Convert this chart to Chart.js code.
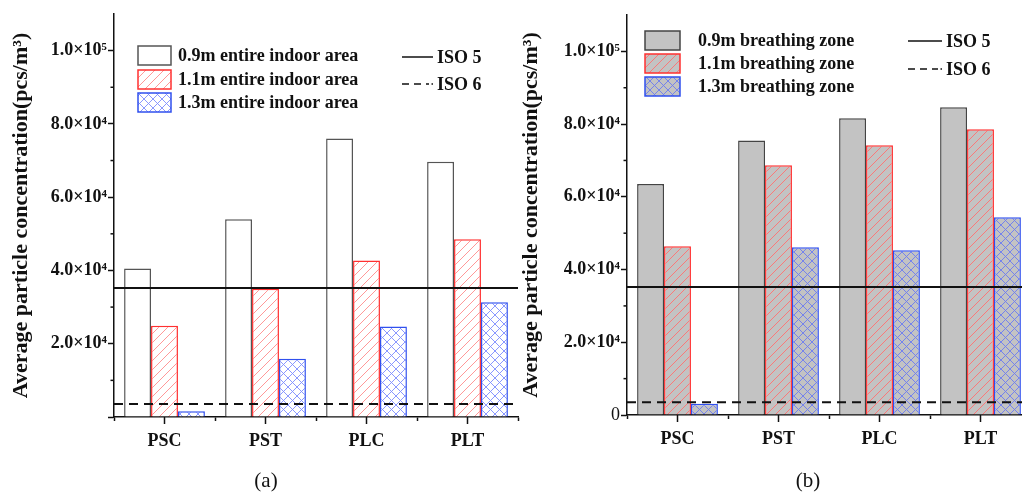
<!DOCTYPE html>
<html>
<head>
<meta charset="utf-8">
<script src="https://cdn.jsdelivr.net/npm/chart.js@4.4.1/dist/chart.umd.min.js"></script>
<style>
  html, body { margin: 0; padding: 0; background: #fff; overflow: hidden; }
  #wrapA { position: absolute; left: 0; top: 0; width: 525px; height: 497px; }
  #wrapB { position: absolute; left: 515px; top: 0; width: 516px; height: 497px; }
</style>
</head>
<body>
<div id="wrapA"><canvas id="chartA"></canvas></div>
<div id="wrapB"><canvas id="chartB"></canvas></div>
<script>
const categories = ["PSC", "PST", "PLC", "PLT"];

// (a) entire indoor area
const entire09 = [40500, 54000, 76000, 69700];
const entire11 = [24900, 35000, 42700, 48500];
const entire13 = [1600, 15900, 24700, 31300];

// (b) breathing zone
const breath09 = [63500, 75500, 81600, 84600];
const breath11 = [46400, 68700, 74200, 78600];
const breath13 = [3100, 46100, 45300, 54400];

// ISO class limits
const iso5 = 35200;
const iso6 = 3520;

const yTickValues = [20000, 40000, 60000, 80000, 100000];
const yTickLabels = ["2.0×10⁴", "4.0×10⁴", "6.0×10⁴", "8.0×10⁴", "1.0×10⁵"];

const serif = "'Liberation Serif', 'Times New Roman', serif";
const ink = "#111";
const red = "#ff3030";
const blue = "#3050ee";
const grey = "#c3c3c3";

function makePattern(bg, color, cross) {
  const s = 9;
  const c = document.createElement("canvas");
  c.width = s; c.height = s;
  const g = c.getContext("2d");
  g.fillStyle = bg;
  g.fillRect(0, 0, s, s);
  g.strokeStyle = color;
  g.lineWidth = 0.9;
  g.beginPath();
  g.moveTo(-1, s + 1); g.lineTo(s + 1, -1);
  g.moveTo(-1, 1); g.lineTo(1, -1);
  g.moveTo(s - 1, s + 1); g.lineTo(s + 1, s - 1);
  if (cross) {
    g.moveTo(-1, -1); g.lineTo(s + 1, s + 1);
    g.moveTo(s - 1, -1); g.lineTo(s + 1, 1);
    g.moveTo(-1, s - 1); g.lineTo(1, s + 1);
  }
  g.stroke();
  return g.createPattern(c, "repeat");
}

const redHatchWhite = makePattern("#fff", "#ff8c8c", false);
const blueCrossWhite = makePattern("#fff", "#7d8cff", true);
const redHatchGrey = makePattern(grey, "#ff7070", false);
const blueCrossGrey = makePattern(grey, "#6c7cf0", true);

const panelDecor = {
  id: "panelDecor",
  afterDatasetsDraw(chart, args, o) {
    const { ctx, chartArea: { left, right }, scales: { y } } = chart;
    ctx.save();
    ctx.strokeStyle = ink;
    ctx.lineWidth = 2;
    let py = y.getPixelForValue(iso5);
    ctx.beginPath(); ctx.moveTo(left, py); ctx.lineTo(right, py); ctx.stroke();
    ctx.setLineDash([9, 6]);
    py = y.getPixelForValue(iso6);
    ctx.beginPath(); ctx.moveTo(left, py); ctx.lineTo(right, py); ctx.stroke();
    ctx.restore();
  },
  afterDraw(chart, args, o) {
    const { ctx, chartArea: { left, bottom }, scales: { x, y } } = chart;
    ctx.save();
    ctx.strokeStyle = ink;
    ctx.lineWidth = 1.5;
    // category ticks
    categories.forEach((c, i) => {
      const px = x.getPixelForValue(i);
      ctx.beginPath(); ctx.moveTo(px, bottom); ctx.lineTo(px, bottom + 7); ctx.stroke();
    });
    // minor y ticks
    y.ticks.forEach(t => {
      if (t.value % 20000 !== 0 && t.value < y.max) {
        const py = y.getPixelForValue(t.value);
        ctx.beginPath(); ctx.moveTo(left, py); ctx.lineTo(left - 3.5, py); ctx.stroke();
      }
    });
    // legend boxes
    ctx.font = "bold 18px " + serif;
    ctx.textBaseline = "middle";
    ctx.fillStyle = ink;
    chart.data.datasets.forEach((ds, i) => {
      const by = o.boxY[i];
      ctx.fillStyle = ds.backgroundColor;
      ctx.fillRect(o.boxX, by, o.boxW, o.boxH);
      ctx.strokeStyle = ds.borderColor;
      ctx.lineWidth = 1.5;
      ctx.strokeRect(o.boxX, by, o.boxW, o.boxH);
      ctx.fillStyle = ink;
      ctx.fillText(ds.label, o.textX, by + o.boxH / 2 + 1);
    });
    // ISO legend
    ctx.strokeStyle = ink;
    ctx.lineWidth = 1.5;
    ctx.beginPath(); ctx.moveTo(o.lineX, o.lineY[0]); ctx.lineTo(o.lineX + o.lineW, o.lineY[0]); ctx.stroke();
    ctx.setLineDash([7, 5]);
    ctx.beginPath(); ctx.moveTo(o.lineX, o.lineY[1]); ctx.lineTo(o.lineX + o.lineW - 4, o.lineY[1]); ctx.stroke();
    ctx.setLineDash([]);
    ctx.beginPath(); ctx.moveTo(o.lineX + o.lineW - 1.5, o.lineY[1]); ctx.lineTo(o.lineX + o.lineW, o.lineY[1]); ctx.stroke();
    ctx.fillText("ISO 5", o.lineX + o.lineW + 4, o.lineY[0] + 1);
    ctx.fillText("ISO 6", o.lineX + o.lineW + 4, o.lineY[1] + 1);
    // panel letter
    ctx.font = "21px " + serif;
    ctx.textAlign = "center";
    ctx.fillText(o.letter, o.letterX, 481);
    ctx.restore();
  }
};

function panelOptions(cfg) {
  return {
    responsive: true,
    maintainAspectRatio: false,
    animation: false,
    layout: { padding: { top: cfg.top, right: cfg.right, left: 0, bottom: 0 } },
    datasets: { bar: { categoryPercentage: 0.8, barPercentage: 1, borderSkipped: "bottom" } },
    plugins: { legend: { display: false }, tooltip: { enabled: false }, panelDecor: cfg.decor },
    scales: {
      x: {
        afterFit(s) { s.height = cfg.xHeight; s.paddingLeft = 0; s.paddingRight = 0; },
        grid: { drawOnChartArea: false, offset: true, tickLength: 4, tickColor: ink, tickWidth: 1.5 },
        border: { color: ink, width: 1.5 },
        ticks: { color: ink, padding: 10, font: { family: serif, size: 18, weight: "bold" } }
      },
      y: {
        min: 0,
        max: 110000,
        afterFit(s) { s.width = cfg.yWidth; s.paddingTop = 0; s.paddingBottom = 0; },
        grid: {
          drawOnChartArea: false,
          tickLength: 6,
          tickWidth: 1.5,
          tickColor: c => (c.tick && c.tick.value % 20000 === 0 && c.tick.value <= 100000) ? ink : "rgba(0,0,0,0)"
        },
        border: { color: ink, width: 1.5 },
        ticks: {
          stepSize: 10000,
          autoSkip: false,
          padding: 1,
          color: ink,
          font: c => ({ family: serif, size: 18, weight: (c.tick && c.tick.value === 0) ? "normal" : "bold" }),
          callback(v) {
            if (v === 0) return cfg.showZero ? "0" : "";
            const i = yTickValues.indexOf(v);
            return i >= 0 ? yTickLabels[i] : "";
          }
        },
        title: {
          display: true,
          text: "Average particle concentration(pcs/m³)",
          color: ink,
          font: { family: serif, size: 22, weight: "bold" },
          padding: { top: cfg.titlePad, bottom: 0 }
        }
      }
    }
  };
}

new Chart(document.getElementById("chartA"), {
  type: "bar",
  data: {
    labels: categories,
    datasets: [
      { label: "0.9m entire indoor area", data: entire09, backgroundColor: "#fff", borderColor: "#555", borderWidth: 1.5 },
      { label: "1.1m entire indoor area", data: entire11, backgroundColor: redHatchWhite, borderColor: red, borderWidth: 1.5 },
      { label: "1.3m entire indoor area", data: entire13, backgroundColor: blueCrossWhite, borderColor: blue, borderWidth: 1.5 }
    ]
  },
  options: panelOptions({
    top: 14, right: 7, xHeight: 80, yWidth: 114, showZero: false, titlePad: 8,
    decor: {
      boxX: 138, boxW: 33, boxH: 19, boxY: [46, 70, 93], textX: 178,
      lineX: 402, lineW: 31, lineY: [57, 84],
      letter: "(a)", letterX: 266
    }
  }),
  plugins: [panelDecor]
});

new Chart(document.getElementById("chartB"), {
  type: "bar",
  data: {
    labels: categories,
    datasets: [
      { label: "0.9m breathing zone", data: breath09, backgroundColor: grey, borderColor: "#444", borderWidth: 1.5 },
      { label: "1.1m breathing zone", data: breath11, backgroundColor: redHatchGrey, borderColor: red, borderWidth: 1.5 },
      { label: "1.3m breathing zone", data: breath13, backgroundColor: blueCrossGrey, borderColor: blue, borderWidth: 1.5 }
    ]
  },
  options: panelOptions({
    top: 15, right: 0, xHeight: 82, yWidth: 112, showZero: true, titlePad: 3,
    decor: {
      boxX: 130, boxW: 35, boxH: 19, boxY: [31, 54, 77], textX: 183,
      lineX: 393, lineW: 34, lineY: [41, 69],
      letter: "(b)", letterX: 293
    }
  }),
  plugins: [panelDecor]
});
</script>
</body>
</html>
